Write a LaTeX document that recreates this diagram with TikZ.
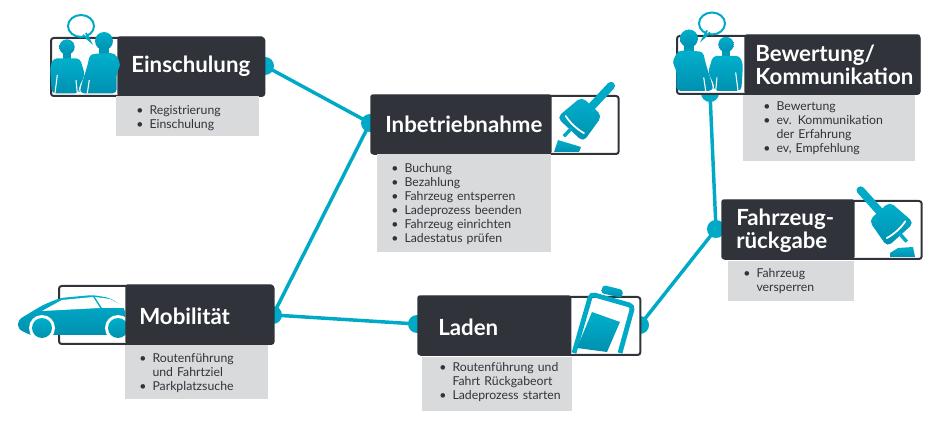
\documentclass[tikz,border=0pt]{standalone}
\usepackage{fontspec}
\setmainfont{Lato}
\usetikzlibrary{shapes,arrows}
\definecolor{slate}{HTML}{30343A}
\definecolor{petrol}{HTML}{00A9C6}
\definecolor{petrollight}{HTML}{00B0CC}
\definecolor{petroldark}{HTML}{0090B0}
\definecolor{panel}{HTML}{D9DADC}
\tikzstyle{frame} = [rectangle, draw=slate, fill=white, line width=1.5pt, rounded corners=2pt,
    anchor=north west, minimum height=43.5pt, inner sep=0pt]
\tikzstyle{block} = [rectangle, fill=slate, rounded corners=2pt, anchor=north west,
    minimum height=45pt, inner sep=0pt]
\tikzstyle{title} = [text=white, anchor=west, align=left, inner sep=0pt,
    font=\fontsize{16.7}{17.5}\selectfont\bfseries]
\tikzstyle{panelbox} = [rectangle, fill=panel, anchor=north west, align=left, inner ysep=0pt,
    text=slate, font=\fontsize{9.2}{10.5}\selectfont]
\tikzstyle{dot} = [circle, fill=petrol, minimum size=13.5pt, inner sep=0pt]
\tikzstyle{line} = [draw=petrol, line width=2.6pt]
\tikzstyle{icon} = [top color=petrollight, bottom color=petroldark, draw=none]
\newcommand{\entries}[2][0pt]{\raisebox{#1}[\height][\depth]{\begin{tabular}{@{}l@{\hspace{4.6pt}}l@{}}#2\end{tabular}}}
\tikzset{
    people/.pic={
        \draw [petrol, line width=1.5pt] (32,-10) ellipse (13 and 11);
        \fill [white] (33,-2) -- (37,-3) -- (38,2) -- cycle;
        \draw [petrol, line width=1.5pt] (34,-1) -- (41,5) -- (37,-3);
        \fill [petroldark!60!petrol] (14,14) rectangle (22,25);
        \fill [petroldark!60!petrol] (50,10) rectangle (60,20);
        \path [icon] (18,11) circle (7.7);
        \path [icon] (55,5) circle (9);
        \path [icon, rounded corners=3pt] (1,30.7) -- (4.3,22.3) -- (31,22.3) -- (36,39) -- (29.3,52.3)
            -- (30.3,57.3) -- (2.7,57.3) -- cycle;
        \path [icon, rounded corners=3pt] (41,18) -- (66,17) -- (72,29) -- (67.7,35.7) -- (67.7,57.3)
            -- (31,57.3) -- (31.7,51.3) -- (38.3,30) -- cycle;
        \draw [white, line width=.8pt] (8.3,39) -- (6,57.3);
        \draw [white, line width=.8pt] (27,44) -- (28.3,57.3);
        \draw [white, line width=.8pt] (40.3,44) -- (38.3,57.3);
    },
    plug/.pic={
        \draw [petrol, line width=6pt, line cap=round] (0,-12) -- (0,-44);
        \path [icon, rounded corners=4pt] (-14,-16) -- (14,-16) -- (18,16) -- (-18,16) -- cycle;
        \draw [white, line width=1.3pt, line cap=round] (-12.5,9) .. controls (-5,11) and (5,11) .. (12.5,9);
        \draw [petrol, line width=2.6pt] (0,14) -- (0,25);
    }
}

\begin{document}
\begin{tikzpicture}[x=0.75pt, y=-0.75pt]
    \useasboundingbox (0,0) rectangle (940,424);
    % Place connector dots
    \node [dot] (einschulungdot) at (265,66) {};
    \node [dot] (inbetriebdot) at (370,123) {};
    \node [dot] (mobilitaetdot) at (273,315) {};
    \node [dot] (ladenin) at (417,324) {};
    \node [dot] (ladenout) at (640,325) {};
    \node [dot] (rueckgabedot) at (716,229) {};
    \node [dot] (bewertungdot) at (710,93) {};
    % Draw edges
    \path [line] (einschulungdot.center) -- (inbetriebdot.center);
    \path [line] (mobilitaetdot.center) -- (inbetriebdot.center);
    \path [line] (mobilitaetdot.center) -- (ladenin.center);
    \path [line] (ladenout.center) -- (rueckgabedot.center);
    \path [line] (rueckgabedot.center) -- (bewertungdot.center);
    % Einschulung
    \node [frame, minimum width=160pt] (einschulungframe) at (50,37) {};
    \node [block, minimum width=110pt] (einschulung) at (117,36) {};
    \node [title] (einschulungtitle) at (131,66) {Einschulung};
    \node [panelbox, text width=77.25pt, inner xsep=15pt, minimum height=30pt] (einschulunglist) at (116,96)
        {\entries[-1.5pt]{\textbullet & Registrierung\\ \textbullet & Einschulung}};
    \pic at (49,36) {people};
    % Inbetriebnahme
    \node [frame, minimum width=185pt] (inbetriebframe) at (371,95) {};
    \node [block, minimum width=136pt] (inbetrieb) at (370,94) {};
    \node [title] (inbetriebtitle) at (385,124) {Inbetriebnahme};
    \node [panelbox, text width=109.5pt, inner xsep=10.5pt, minimum height=73.5pt] (inbetrieblist) at (377,154)
        {\entries[-.75pt]{\textbullet & Buchung\\ \textbullet & Bezahlung\\ \textbullet & Fahrzeug entsperren\\
        \textbullet & Ladeprozess beenden\\ \textbullet & Fahrzeug einrichten\\ \textbullet & Ladestatus prüfen}};
    \path [icon] (558,140) -- (554,152) -- (579,152) -- (581,147) -- cycle;
    \pic [rotate=-43] at (581,118) {plug};
    % Bewertung/Kommunikation
    \node [frame, minimum width=182pt] (bewertungframe) at (676,35) {};
    \node [block, minimum width=132pt] (bewertung) at (744,34) {};
    \node [title] (bewertungtitle) at (755,65) {Bewertung/\\Kommunikation};
    \node [panelbox, text width=99pt, inner xsep=15pt, minimum height=49.5pt] (bewertunglist) at (743,95)
        {\entries{\textbullet & Bewertung\\ \textbullet & ev. Kommunikation\\ & der Erfahrung\\ \textbullet & ev, Empfehlung}};
    \pic [xscale=-1] at (744,33.5) {people};
    % Fahrzeugrueckgabe
    \node [frame, minimum width=149pt] (rueckgabeframe) at (722,200) {};
    \node [block, minimum width=100pt] (rueckgabe) at (721,199) {};
    \node [title] (rueckgabetitle) at (736,231) {Fahrzeug-\\rückgabe};
    \node [panelbox, text width=72pt, inner xsep=11.25pt, minimum height=30pt] (rueckgabelist) at (728,261)
        {\entries{\textbullet & Fahrzeug\\ & versperren}};
    \path [icon] (890,253) -- (898,248) -- (913,247) -- (915,257) -- (890,257) -- cycle;
    \pic [rotate=42] at (890,223) {plug};
    % Mobilitaet
    \node [frame, minimum width=161pt] (mobilitaetframe) at (58,285) {};
    \path [icon, rounded corners=3pt] (18,320) -- (43,305) -- (60,298) -- (93,295) -- (110,298) -- (125,308)
        -- (125,335) -- (30,335) -- (18,329) -- cycle;
    \fill [white] (42,311) -- (62,300) -- (93,297) -- (100,308) -- cycle;
    \fill [white] (95,297) -- (110,299) -- (125,307) -- (125,308) -- (102,308) -- cycle;
    \fill [white] (42,328) circle (13);
    \fill [white] (118,328) circle (13);
    \path [icon] (42,328) circle (10);
    \path [icon] (118,328) circle (10);
    \node [block, minimum width=111pt] (mobilitaet) at (125,284) {};
    \node [title] (mobilitaettitle) at (139,316) {Mobilität};
    \node [panelbox, text width=86.25pt, inner xsep=10.5pt, minimum height=40pt] (mobilitaetlist) at (125,345)
        {\entries[-1.5pt]{\textbullet & Routenführung\\ & und Fahrtziel\\ \textbullet & Parkplatzsuche}};
    % Laden
    \node [frame, minimum width=166pt] (ladenframe) at (418,296) {};
    \node [block, minimum width=115.5pt] (laden) at (417,295) {};
    \node [title] (ladentitle) at (438,327) {Laden};
    \node [panelbox, text width=87pt, inner xsep=12.75pt, minimum height=40pt] (ladenlist) at (422,357)
        {\entries[.75pt]{\textbullet & Routenführung und\\ & Fahrt Rückgabeort\\ \textbullet & Ladeprozess starten}};
    \path [icon, rounded corners=2pt] (603,285) -- (623,290) -- (622,298) -- (601,293) -- cycle;
    \draw [petrol, line width=3.6pt, rounded corners=3pt] (574,353) -- (591,294) -- (633,306) -- (620,353);
    \path [icon] (592,312) -- (620,322) -- (607,352) -- (577,348) -- cycle;
\end{tikzpicture}
\end{document}
